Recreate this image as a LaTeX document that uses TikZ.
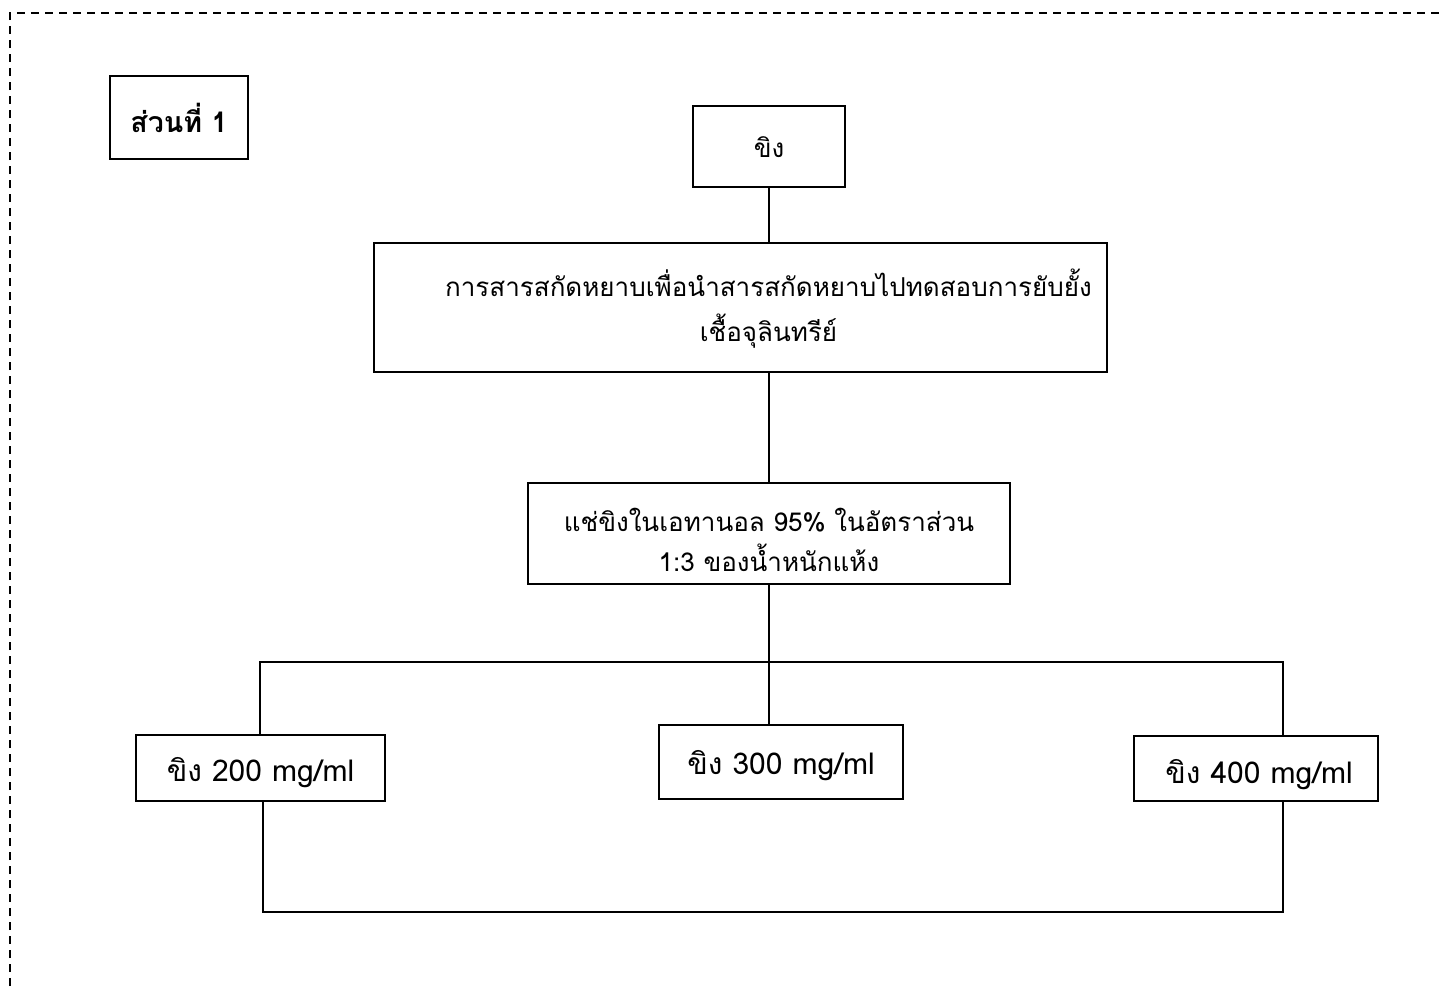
\documentclass[tikz,border=0pt]{standalone}
\usepackage{fontspec}
\newfontfamily\thai[Script=Thai]{Loma}
\begin{document}
\begin{tikzpicture}[x=1pt,y=-1pt,
  box/.style={draw,line width=1.6pt,rectangle,inner sep=0pt,align=center,font=\thai\fontsize{26}{44}\selectfont},
  small/.style={font=\thai\fontsize{30}{36}\selectfont},
  conn/.style={line width=1.4pt}]
\useasboundingbox (0,0) rectangle (1440,988);
\draw[line width=1.4pt,dash pattern=on 8pt off 6pt] (10,1000) -- (10,13) -- (1450,13);
\node[box,minimum width=138pt,minimum height=83pt,font=\thai\bfseries\fontsize{28.5}{34}\selectfont] (part) at (179,117.5) {ส่วนที่ 1};
\node[box,minimum width=152pt,minimum height=81pt] (ging) at (769,146.5) {\rule{0pt}{22pt}ขิง};
\node[box,minimum width=733pt,minimum height=129pt,font=\thai\fontsize{26}{45}\selectfont] (extract) at (740.5,307.5) {\rule{0pt}{29pt}\hspace*{56pt}การสารสกัดหยาบเพื่อนำสารสกัดหยาบไปทดสอบการยับยั้ง\\\hspace*{56pt}เชื้อจุลินทรีย์};
\node[box,minimum width=482pt,minimum height=101pt,font=\thai\fontsize{26}{40}\selectfont] (soak) at (769,533.5) {\rule{0pt}{36pt}แช่ขิงในเอทานอล 95\% ในอัตราส่วน\\1:3 ของน้ำหนักแห้ง};
\node[box,small,minimum width=249pt,minimum height=66pt] (b200) at (260.5,768) {\rule{0pt}{34pt}ขิง 200 mg/ml};
\node[box,small,minimum width=244pt,minimum height=74pt] (b300) at (781,762) {\rule{0pt}{31pt}ขิง 300 mg/ml};
\node[box,small,minimum width=244pt,minimum height=65pt] (b400) at (1256,768.5) {\rule{0pt}{37pt}\hspace*{6pt}ขิง 400 mg/ml};
\coordinate (bl) at (260,662);
\coordinate (br) at (1283,662);
\coordinate (cl) at (263,912);
\coordinate (cr) at (1283,912);
\draw[conn] (ging.south) -- (ging.south |- extract.north);
\draw[conn] (soak.north |- extract.south) -- (soak.north);
\draw[conn] (soak.south) -- (soak.south |- b300.north);
\draw[conn] (bl |- b200.north) -- (bl) -- (br) -- (br |- b400.north);
\draw[conn] (cl |- b200.south) -- (cl) -- (cr) -- (cr |- b400.south);
\end{tikzpicture}
\end{document}
